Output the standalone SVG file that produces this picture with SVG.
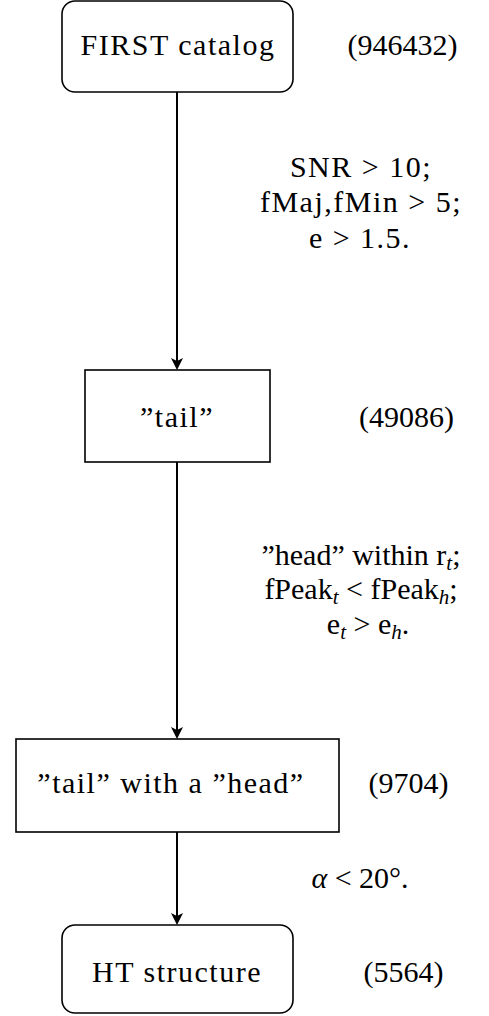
<svg xmlns="http://www.w3.org/2000/svg" width="489" height="1016" viewBox="0 0 489 1016">
<style>
.dgbox{fill:#fff;stroke:#000;stroke-width:1.6}
.dgline{stroke:#000;stroke-width:2;fill:none}
.dghead{fill:#000;stroke:none}
.dgtext{font-family:"Liberation Serif",serif;font-size:30px;fill:#000;text-anchor:middle}
.dgwide{letter-spacing:1.5px}
.dgsub{font-size:21px;font-style:italic}
.dgital{font-style:italic}
</style>
<rect width="489" height="1016" fill="#fff"/>
<g id="connectors">
<line class="dgline" x1="177" y1="92" x2="177" y2="362"/>
<path class="dghead" d="M171,358 L177,370 L183,358 L177,361 Z"/>
<line class="dgline" x1="177" y1="462" x2="177" y2="731"/>
<path class="dghead" d="M171,727 L177,739 L183,727 L177,730 Z"/>
<line class="dgline" x1="177" y1="832" x2="177" y2="917"/>
<path class="dghead" d="M171,913 L177,925 L183,913 L177,916 Z"/>
</g>
<g id="labels">
<text class="dgtext dgwide" x="361" y="177">SNR &gt; 10;</text>
<text class="dgtext dgwide" x="361" y="212">fMaj,fMin &gt; 5;</text>
<text class="dgtext dgwide" x="360" y="248">e &gt; 1.5.</text>
<text class="dgtext" x="361" y="565">”head” within r<tspan class="dgsub" dy="5">t</tspan><tspan dy="-5">;</tspan></text>
<text class="dgtext" x="361" y="599">fPeak<tspan class="dgsub" dy="5">t</tspan><tspan dy="-5"> &lt; fPeak</tspan><tspan class="dgsub" dy="5">h</tspan><tspan dy="-5">;</tspan></text>
<text class="dgtext" x="368" y="634">e<tspan class="dgsub" dy="5">t</tspan><tspan dy="-5"> &gt; e</tspan><tspan class="dgsub" dy="5">h</tspan><tspan dy="-5">.</tspan></text>
<text class="dgtext" x="360" y="888"><tspan class="dgital">α</tspan>  &lt; 20°.</text>
</g>
<g id="n1">
<rect class="dgbox" x="62" y="1" width="231" height="91" rx="13"/>
<text class="dgtext dgwide" x="178" y="55">FIRST catalog</text>
<text class="dgtext" x="402.5" y="55">(946432)</text>
</g>
<g id="n2">
<rect class="dgbox" x="85" y="370" width="185" height="92"/>
<text class="dgtext dgwide" x="177" y="427">”tail”</text>
<text class="dgtext" x="406.5" y="427">(49086)</text>
</g>
<g id="n3">
<rect class="dgbox" x="16" y="739" width="323" height="93"/>
<text class="dgtext dgwide" x="171" y="793">”tail” with a ”head”</text>
<text class="dgtext" x="408.5" y="793">(9704)</text>
</g>
<g id="n4">
<rect class="dgbox" x="62" y="925" width="231" height="88" rx="13"/>
<text class="dgtext dgwide" x="177" y="982">HT structure</text>
<text class="dgtext" x="403.5" y="982">(5564)</text>
</g>
</svg>
